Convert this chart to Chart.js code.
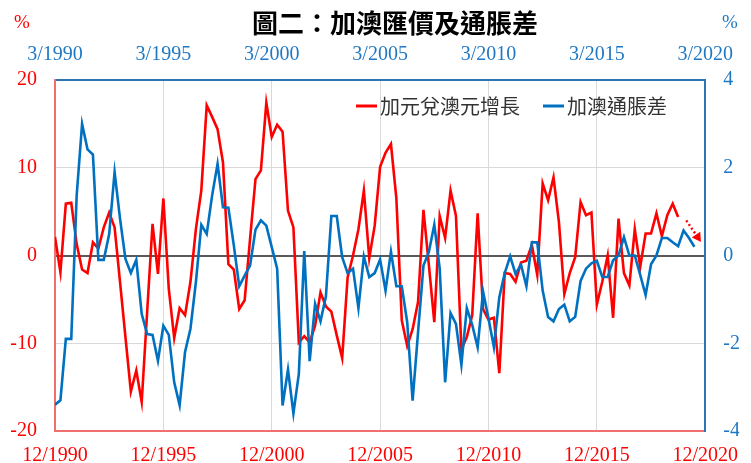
<!DOCTYPE html>
<html>
<head>
<meta charset="utf-8">
<script src="https://cdn.jsdelivr.net/npm/chart.js@4"></script>
<style>
    html, body { margin: 0; padding: 0; background: #fff; }
    #wrap { width: 751px; height: 463px; }
</style>
</head>
<body>
<div id="wrap"><canvas id="chart" width="751" height="463"></canvas></div>
<script>
// Quarterly data, index 0 = first quarter on the axis
const titleText = "圖二：加澳匯價及通脹差";
const redLabel = "加元兌澳元增長";
const blueLabel = "加澳通脹差";

const bottomTicks = ["12/1990", "12/1995", "12/2000", "12/2005", "12/2010", "12/2015", "12/2020"];
const topTicks = ["3/1990", "3/1995", "3/2000", "3/2005", "3/2010", "3/2015", "3/2020"];
const leftTicks = [-20, -10, 0, 10, 20];
const rightTicks = [-4, -2, 0, 2, 4];

// CAD/AUD growth (%), left axis
const cadAudGrowth = [
    2.1, -1.9, 5.9, 6.0, 1.3, -1.6, -2.0, 1.5, 0.8, 3.2,
    4.9, 3.2, -3.0, -9.3, -15.5, -13.1, -16.7, -6.5, 3.6, -2.1,
    6.5, -3.8, -9.4, -6.0, -6.8, -3.0, 3.0, 7.4, 17.1, 15.8,
    14.4, 10.6, -1.0, -1.6, -6.1, -5.1, 1.9, 8.7, 9.7, 17.4,
    13.5, 14.9, 14.1, 5.1, 3.2, -9.9, -9.2, -9.9, -8.0, -4.2,
    -5.8, -6.4, -9.1, -11.7, -2.5, 0.0, 3.0, 7.4, -0.3, 3.4,
    10.1, 11.7, 12.7, 6.5, -7.4, -10.3, -8.4, -5.3, 5.2, -1.1,
    -7.6, 4.5, 2.0, 7.4, 4.5, -10.7, -9.3, -6.8, 4.8, -6.1,
    -7.3, -7.1, -13.4, -2.0, -2.1, -3.0, -0.8, -0.6, 1.2, -2.2,
    8.2, 6.3, 8.9, 3.8, -4.4, -2.0, -0.2, 6.1, 4.6, 4.9,
    -5.6, -3.0, 0.0, -7.1, 4.2, -2.0, -3.4, 3.0, -1.3, 2.5,
    2.5, 4.8, 2.2, 4.6, 5.9, 4.4
];
// forecast tail (dotted, with arrow)
const forecastQuarter = [116.5, 118.6];
const forecastGrowth = [4.0, 2.1];

// Canada - Australia inflation gap (%), right axis
const inflationGap = [
    -3.4, -3.3, -1.9, -1.9, 1.37, 3.0, 2.42, 2.3, -0.1, -0.1,
    0.49, 1.9, 0.84, -0.08, -0.4, -0.1, -1.33, -1.79, -1.81, -2.4,
    -1.6, -1.81, -2.89, -3.41, -2.2, -1.67, -0.61, 0.7, 0.49, 1.37,
    2.09, 1.1, 1.09, 0.23, -0.7, -0.46, -0.23, 0.59, 0.8, 0.68,
    0.19, -0.3, -3.42, -2.6, -3.6, -2.7, 0.1, -2.41, -1.1, -1.5,
    -0.93, 0.9, 0.9, -0.04, -0.4, -0.3, -1.2, -0.02, -0.49, -0.4,
    -0.09, -0.8, 0.09, -0.7, -0.7, -1.52, -3.31, -1.75, -0.23, 0.08,
    0.7, -0.3, -2.89, -1.31, -1.56, -2.49, -1.2, -1.58, -2.09, -0.82,
    -1.43, -2.09, -0.95, -0.4, -0.02, -0.42, -0.21, -0.7, 0.3, 0.3,
    -0.8, -1.4, -1.5, -1.22, -1.12, -1.5, -1.4, -0.58, -0.3, -0.18,
    -0.12, -0.49, -0.49, -0.11, 0.0, 0.42, 0.0, 0.0, -0.44, -0.9,
    -0.2, 0.0, 0.4, 0.4, 0.3, 0.21, 0.57, 0.4, 0.2
];

const RED = "#ff0000";
const BLUE = "#0070c0";
const BLUE_TEXT = "#1f78c4";

const decorations = {
    id: "decorations",
    afterDraw(chart) {
        const ctx = chart.ctx;
        ctx.save();
        ctx.textBaseline = "middle";

        ctx.font = 'bold 26px "Noto Sans CJK TC"';
        ctx.fillStyle = "#000";
        ctx.textAlign = "center";
        ctx.fillText(titleText, 395, 23);

        ctx.font = '19px "Liberation Serif"';
        ctx.fillStyle = RED;
        ctx.fillText("%", 22, 23);
        ctx.fillStyle = BLUE_TEXT;
        ctx.fillText("%", 730, 23);

        // legend inside the plot
        let x = 356;
        const y = 106;
        ctx.textAlign = "left";
        ctx.font = '20px "Noto Sans CJK TC"';
        chart.data.datasets.filter(ds => ds.showInLegend).forEach(ds => {
            ctx.strokeStyle = ds.borderColor;
            ctx.lineWidth = 3;
            ctx.beginPath();
            ctx.moveTo(x, y);
            ctx.lineTo(x + 21, y);
            ctx.stroke();
            ctx.fillStyle = "#333";
            ctx.fillText(ds.label, x + 24, y);
            x += 24 + ctx.measureText(ds.label).width + 23;
        });
        ctx.restore();
    }
};

const ctx = document.getElementById("chart").getContext("2d");
new Chart(ctx, {
    type: "line",
    data: {
        datasets: [
            {
                label: redLabel,
                showInLegend: true,
                data: cadAudGrowth.map((v, i) => ({ x: i, y: v })),
                borderColor: RED,
                borderWidth: 2.6,
                pointRadius: 0,
                yAxisID: "y",
                order: 2
            },
            {
                label: "forecast",
                data: forecastGrowth.map((v, i) => ({ x: forecastQuarter[i], y: v })),
                borderColor: RED,
                backgroundColor: RED,
                borderWidth: 2.4,
                borderDash: [2, 2.5],
                pointStyle: "triangle",
                pointRadius: [0, 3.5],
                pointRotation: 146,
                yAxisID: "y",
                order: 2
            },
            {
                label: blueLabel,
                showInLegend: true,
                data: inflationGap.map((v, i) => ({ x: i, y: v })),
                borderColor: BLUE,
                borderWidth: 2.6,
                pointRadius: 0,
                yAxisID: "y2",
                order: 1
            }
        ]
    },
    options: {
        responsive: false,
        animation: false,
        layout: { padding: 0 },
        plugins: {
            legend: { display: false },
            tooltip: { enabled: false }
        },
        scales: {
            x: {
                type: "linear",
                position: "bottom",
                min: 0,
                max: 120,
                afterFit: s => { s.height = 32; },
                afterBuildTicks: s => { s.ticks = bottomTicks.map((t, i) => ({ value: i * 20 })); },
                grid: { color: "#d9d9d9", lineWidth: 1, drawTicks: false },
                border: { color: "#f07070", width: 2 },
                ticks: {
                    padding: 13,
                    autoSkip: false,
                    maxRotation: 0,
                    color: RED,
                    font: { family: "Liberation Serif", size: 20 },
                    callback: (v, i) => bottomTicks[i]
                }
            },
            x2: {
                type: "linear",
                position: "top",
                min: 0,
                max: 120,
                afterFit: s => { s.height = 80; },
                afterBuildTicks: s => { s.ticks = topTicks.map((t, i) => ({ value: i * 20 })); },
                grid: { display: false, drawTicks: false },
                border: { color: "#2e75b6", width: 2 },
                ticks: {
                    padding: 13,
                    autoSkip: false,
                    maxRotation: 0,
                    color: BLUE_TEXT,
                    font: { family: "Liberation Serif", size: 20 },
                    callback: (v, i) => topTicks[i]
                }
            },
            y: {
                position: "left",
                min: leftTicks[0],
                max: leftTicks[leftTicks.length - 1],
                afterFit: s => { s.width = 55; },
                afterBuildTicks: s => { s.ticks = leftTicks.map(v => ({ value: v })); },
                grid: {
                    drawTicks: false,
                    color: c => c.tick.value === 0 ? "#595959" : "#d9d9d9",
                    lineWidth: c => c.tick.value === 0 ? 2 : 1
                },
                border: { color: "#f07070", width: 2 },
                ticks: {
                    padding: 18,
                    color: RED,
                    font: { family: "Liberation Serif", size: 20 }
                }
            },
            y2: {
                position: "right",
                min: rightTicks[0],
                max: rightTicks[rightTicks.length - 1],
                afterFit: s => { s.width = 34; },
                afterBuildTicks: s => { s.ticks = rightTicks.map(v => ({ value: v })); },
                grid: { display: false, drawTicks: false },
                border: { color: "#2e75b6", width: 2 },
                ticks: {
                    padding: 18,
                    color: BLUE_TEXT,
                    font: { family: "Liberation Serif", size: 20 }
                }
            }
        }
    },
    plugins: [decorations]
});
</script>
</body>
</html>
